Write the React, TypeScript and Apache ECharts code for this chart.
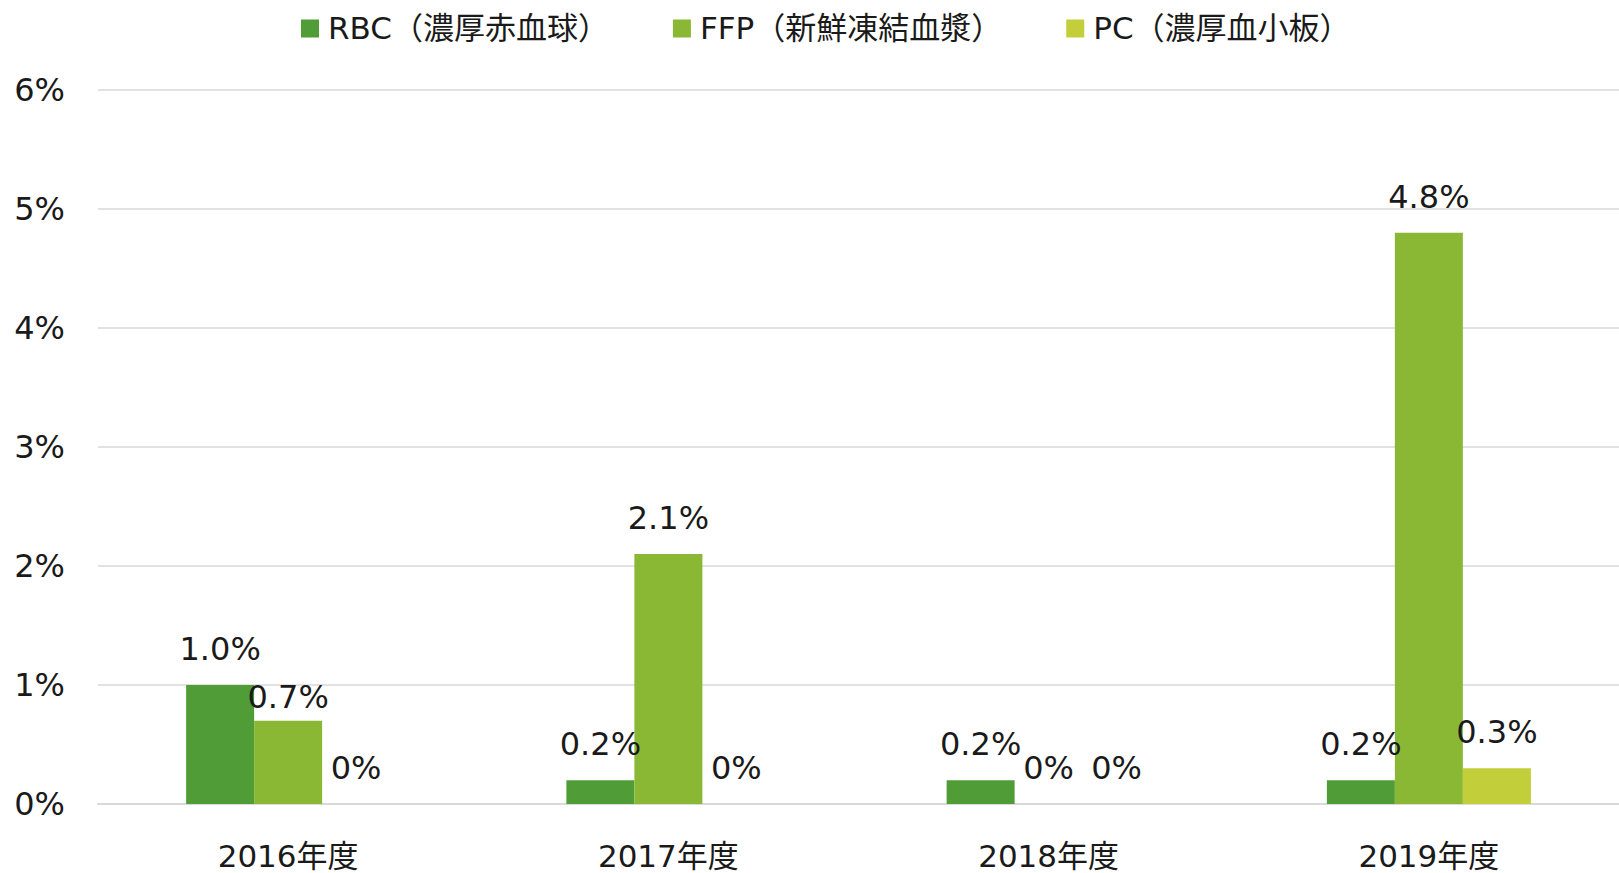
import React, { useEffect, useRef } from "react";
import * as echarts from "echarts";

const categories = ["2016年度", "2017年度", "2018年度", "2019年度"];
const rbcValues = [1.0, 0.2, 0.2, 0.2];
const ffpValues = [0.7, 2.1, 0, 4.8];
const pcValues = [0, 0, 0, 0.3];
const seriesNames = ["RBC（濃厚赤血球）", "FFP（新鮮凍結血漿）", "PC（濃厚血小板）"];
const colors = ["#509D37", "#8BB834", "#C2CE3A"];

const FONT = "'DejaVu Sans', 'Noto Sans CJK JP', sans-serif";

const fmt = (v: number) => (v === 0 ? "0%" : v.toFixed(1) + "%");

export default function App() {
  const ref = useRef<HTMLDivElement>(null);
  useEffect(() => {
    if (!ref.current) return;
    const chart = echarts.init(ref.current, undefined, { renderer: "svg" });
    const labelBase = {
      show: true,
      position: "top" as const,
      distance: 20,
      fontSize: 32,
      fontFamily: FONT,
      color: "#1a1a1a",
      formatter: (p: any) => fmt(p.value),
    };
    const mk = (name: string, values: number[], color: string, special?: number) => ({
      name,
      type: "bar",
      data: values.map((v, i) =>
        i === special ? { value: v, label: { distance: 8 } } : v
      ),
      barWidth: 68,
      barGap: "0%",
      itemStyle: { color },
      label: labelBase,
    });
    chart.setOption({
      animation: false,
      color: colors,
      legend: {
        top: 8,
        left: 296,
        itemWidth: 18,
        itemHeight: 18,
        itemGap: 64,
        icon: "rect",
        textStyle: {
          fontSize: 31,
          fontFamily: FONT,
          color: "#1a1a1a",
          padding: [0, 0, 0, 4],
        },
        data: seriesNames,
      },
      grid: { left: 98, right: -8, top: 90, bottom: 69 },
      xAxis: {
        type: "category",
        data: categories,
        axisTick: { show: false },
        axisLine: { lineStyle: { color: "#d9d9d9", width: 2 } },
        axisLabel: {
          fontSize: 31,
          lineHeight: 30,
          fontFamily: FONT,
          color: "#1a1a1a",
          margin: 37,
        },
      },
      yAxis: {
        type: "value",
        min: 0,
        max: 6,
        interval: 1,
        axisLine: { show: false },
        axisTick: { show: false },
        splitLine: { lineStyle: { color: "#d9d9d9", width: 1.5 } },
        axisLabel: {
          fontSize: 32,
          fontFamily: FONT,
          color: "#1a1a1a",
          margin: 33,
          formatter: "{value}%",
        },
      },
      series: [
        mk(seriesNames[0], rbcValues, colors[0]),
        mk(seriesNames[1], ffpValues, colors[1], 0),
        mk(seriesNames[2], pcValues, colors[2]),
      ],
    });
    return () => chart.dispose();
  }, []);
  return (
    <div
      ref={ref}
      style={{ position: "absolute", left: 0, top: 0, width: 1619, height: 873, background: "#fff" }}
    />
  );
}
